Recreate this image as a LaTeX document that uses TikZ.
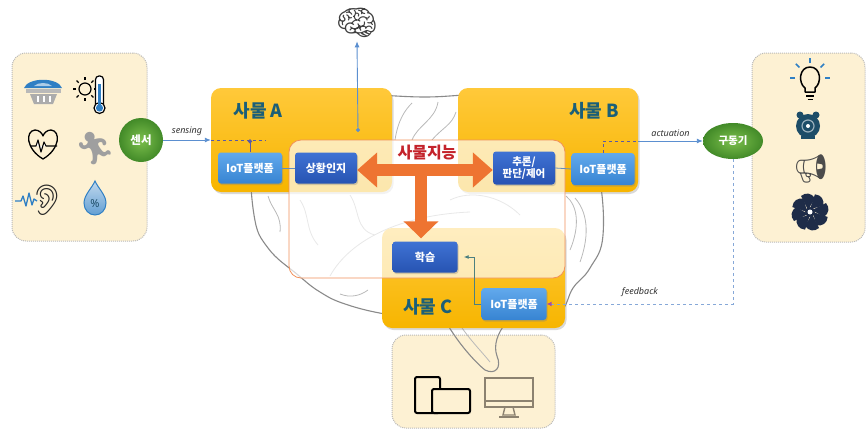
\documentclass[tikz,border=0pt]{standalone}
\usepackage{fontspec}
\setmainfont{Noto Sans CJK KR}
\newfontfamily\emo{Noto Emoji}
\newfontfamily\lat{Noto Sans}
\usetikzlibrary{positioning,shadows,arrows.meta,shapes.geometric}

\definecolor{thingyellow}{HTML}{F7B500}
\definecolor{thingtop}{HTML}{FFC93A}
\definecolor{titleteal}{HTML}{1B5F78}
\definecolor{iotblue}{HTML}{3784D2}
\definecolor{iottop}{HTML}{62A9EC}
\definecolor{funcblue}{HTML}{2753B2}
\definecolor{functop}{HTML}{3F72D4}
\definecolor{cream}{HTML}{FDF1D3}
\definecolor{hubgreen}{HTML}{428A28}
\definecolor{hublight}{HTML}{7CBF4C}
\definecolor{brainline}{HTML}{8A8A8A}
\definecolor{arrowor}{HTML}{EE7431}
\definecolor{brainred}{HTML}{C4232B}
\definecolor{sigblue}{HTML}{5B8FD0}
\definecolor{dashblue}{HTML}{86A8D8}
\definecolor{iconblue}{HTML}{2F7FC4}
\definecolor{bellnavy}{HTML}{1D4D68}
\definecolor{fannavy}{HTML}{1E2C48}
\definecolor{devgray}{HTML}{8C8270}

\begin{document}
\begin{tikzpicture}[
  x=1pt, y=-1pt,
  panel/.style={rounded corners=14pt, fill=cream, draw=gray!55, densely dotted, line width=1pt, inner sep=0pt},
  thing/.style={rounded corners=10pt, top color=thingtop, bottom color=thingyellow, inner sep=0pt,
    drop shadow={opacity=0.3, shadow xshift=1.5pt, shadow yshift=-2pt}},
  title/.style={text=titleteal, font=\bfseries\fontsize{18}{18}\selectfont},
  iot/.style={rounded corners=3pt, top color=iottop, bottom color=iotblue, text=white,
    font=\bfseries\fontsize{11}{12}\selectfont, minimum width=64pt, minimum height=31pt, inner sep=1pt,
    align=center, drop shadow={opacity=0.35, shadow xshift=1pt, shadow yshift=-1.5pt}},
  func/.style={iot, top color=functop, bottom color=funcblue},
  hub/.style={circle, shading=radial, inner color=hublight, outer color=hubgreen, text=white,
    font=\bfseries\fontsize{11.5}{12}\selectfont, minimum size=44pt, inner sep=0pt},
  brain/.style={draw=brainline, line width=1.1pt},
  gyrus/.style={draw=gray!55, line width=0.8pt},
  sig/.style={draw=sigblue, line width=0.9pt, -{Latex[length=6pt,width=5pt]}},
  dashline/.style={draw=dashblue, line width=1pt, dashed},
  biglink/.style={draw=arrowor, line width=12pt},
  lbl/.style={font=\lat\itshape\fontsize{9}{9}\selectfont, text=black!80},
  emoji/.style={font=\emo\fontsize{#1}{#1}\selectfont},
  font=\small
]
\useasboundingbox (0,0) rectangle (866,431);

% device panel sits under the brain stem
\node[panel, minimum width=163pt, minimum height=93pt] (devPanel) at (473.5,381.5) {};

% brain in the background
\draw[brain] plot[smooth cycle, tension=0.7] coordinates {(252,150) (268,118) (305,100) (360,95) (425,97)
  (485,95) (540,103) (580,128) (598,170) (603,235) (590,268) (573,288) (562,310) (540,322) (505,325)
  (470,322) (425,318) (385,314) (345,304) (320,292) (298,275) (268,248) (254,215)};
\draw[brain] (446,322) .. controls (458,343) and (475,362) .. (485,370)
  .. controls (495,375) and (502,368) .. (497,356) .. controls (493,345) and (498,333) .. (505,324);
\draw[gyrus] (460,325) .. controls (470,340) and (482,352) .. (490,362);
\draw[gyrus] (395,140) .. controls (398,120) and (405,110) .. (412,103);
\draw[gyrus] (412,140) .. controls (418,125) and (435,120) .. (438,102);
\draw[gyrus] (432,140) .. controls (442,128) and (452,125) .. (456,112);
\draw[gyrus] (330,276) .. controls (350,240) and (400,215) .. (470,212);
\draw[gyrus] (300,200) .. controls (310,215) and (305,230) .. (318,245);
\draw[gyrus] (350,195) .. controls (360,210) and (355,230) .. (375,235);
\draw[gyrus] (450,200) .. controls (470,190) and (500,195) .. (520,215);
\draw[gyrus] (268,196) .. controls (272,210) and (282,215) .. (280,232);
\draw[gyrus] (575,198) .. controls (590,215) and (588,240) .. (580,262);
\draw[gyrus] (566,196) .. controls (578,206) and (580,226) .. (570,250);
\draw[gyrus] (340,294) .. controls (350,298) and (360,296) .. (368,290);

% sensor and actuator panels
\node[panel, minimum width=135pt, minimum height=188pt] (sensorPanel) at (79.5,147) {};
\node[panel, minimum width=113pt, minimum height=189pt] (actPanel) at (808.5,147.5) {};

% things
\node[thing, minimum width=181pt, minimum height=104pt] (thingA) at (301.5,140) {};
\node[thing, minimum width=180pt, minimum height=104pt] (thingB) at (548,140) {};
\node[thing, minimum width=183pt, minimum height=100pt] (thingC) at (473.5,278) {};

% intelligence area laid over the things
\node[rounded corners=12pt, fill=white, fill opacity=0.68, draw=arrowor!80, line width=0.8pt,
  minimum width=276pt, minimum height=138pt] (brainbox) at (427,209) {};

\node[title] at (258,111) {사물 A};
\node[title] at (594,111) {사물 B};
\node[title] at (428,307) {사물 C};
\node[text=brainred, font=\bfseries\fontsize{16}{16}\selectfont] (smart) at (427,153) {사물지능};

% platforms and functions
\node[iot] (iotA) at (250,168) {IoT플랫폼};
\node[func, minimum width=62pt] (sense) at (326,168) {상황인지};
\node[func, minimum width=62pt, minimum height=33pt, font=\bfseries\fontsize{10.5}{12}\selectfont] (judge) at (524,168) {추론/\\판단/제어};
\node[iot, minimum width=63pt, minimum height=32pt] (iotB) at (603,169) {IoT플랫폼};
\node[func, minimum width=65pt] (learn) at (425,257) {학습};
\node[iot, minimum width=65pt, minimum height=32pt] (iotC) at (514,304) {IoT플랫폼};

% sensor / actuator hubs
\node[hub] (sensor) at (141,140) {센서};
\node[hub, ellipse, minimum width=60pt, minimum height=36pt, font=\bfseries\fontsize{10.5}{11}\selectfont] (actuator) at (733,141) {구동기};

% orange links between the functions
\coordinate (fork) at (421,170);
\draw[biglink, {Triangle[width=34pt,length=20pt]}-{Triangle[width=34pt,length=20pt]}]
  (sense.east |- fork) -- (judge.west |- fork);
\draw[biglink, -{Triangle[width=34pt,length=17pt]}, shorten >=3pt] (fork) -- (fork |- learn.north);

% sensing side
\draw[sig] (sensor.east) -- node[lbl, above=1pt] {sensing} (sensor.east -| thingA.west);
\draw[dashline, draw=gray!70!blue] (sensor.east -| thingA.west) -- ++(55,0);
\draw[draw=gray!70!blue, line width=1pt, {Circle[length=4pt]}-] (iotA.north) ++(0,-13) -- (iotA.north);
\draw[draw=sigblue!80!gray, line width=0.8pt] (iotA.east) -- (sense.west);
\draw[draw=sigblue!80!gray, line width=0.8pt] (judge.east) -- (iotB.west);

% actuation side
\coordinate (actB) at (thingB.east |- actuator);
\draw[dashline, draw=gray!70!blue] (iotB.north) |- (actB);
\draw[sig] (actB) -- node[lbl, above=1pt] {actuation} (actuator.west);

% feedback into thing C
\draw[dashline, -{Latex[length=5pt,width=5pt,color=violet!70]}] (actuator.south) |- node[lbl, above=4pt, pos=0.75] {feedback} (iotC.east);
\draw[draw=gray!60!teal, line width=0.9pt, -{Latex[length=5pt,width=4pt]}] (iotC.west) -- ++(-7,0) |- ([xshift=6pt]learn.east);

% knowledge goes up
\node[emoji=34, text=black!75] (brainIcon) at (357,23) {🧠};
\coordinate (upA) at (358,132);
\draw[draw=sigblue, line width=0.9pt, {Circle[length=4pt]}-{Latex[length=6pt,width=5pt]}] (upA) -- (brainIcon.south);

% sensor icons
\fill[iconblue] (24,88) .. controls (28,77) and (58,77) .. (62,88) -- cycle;
\fill[white!60!iconblue] (34,86) .. controls (38,82) and (48,82) .. (52,86) -- cycle;
\fill[gray!55] (26,89) rectangle (61,93);
\fill[gray!65] (30,94) -- (57,94) -- (53,104) -- (34,104) -- cycle;
\foreach \sx in {37,43,49} \fill[white] (\sx,96) rectangle ++(2.4,6);

\draw[line width=1.2pt] (85,89) circle (6);
\foreach \a in {0,45,...,315} \draw[line width=1.2pt, shift={(85,89)}] (\a:9) -- (\a:12);
\draw[line width=1.2pt, fill=white, rounded corners=3.5pt] (95.5,104) -- (95.5,76) -- (103.5,76) -- (103.5,104);
\draw[line width=1.2pt, fill=white] (99.5,108) circle (5.5);
\fill[iconblue] (98,84) rectangle (101,106);
\fill[iconblue] (99.5,108) circle (3.6);

\draw[line width=1.3pt, line join=round] (43,159) .. controls (26,149) and (25,131) .. (35,130)
  .. controls (39,130) and (42,133) .. (43,136) .. controls (44,133) and (47,130) .. (51,130)
  .. controls (61,131) and (60,149) .. (43,159) -- cycle;
\draw[line width=1.1pt, fill=white, line join=round] (30,146) -- (36,146) -- (38,140) -- (41,152) -- (44,142) -- (46,146) -- (57,146);

\node[emoji=32, text=gray!75] (runner) at (95,149) {🏃};

\draw[iconblue, line width=1.3pt, line join=round] (15,201) -- (21,201) -- (23,196) -- (26,206) -- (29,193) -- (32,205) -- (34,199) -- (37,201);
\node[emoji=30, text=black!85] (ear) at (47,200) {👂};

\draw[draw=iconblue, line width=1pt, shade, top color=white!70!iconblue, bottom color=white!25!iconblue]
  (95,181) .. controls (92,188) and (84,195) .. (84,203) .. controls (84,210) and (89,215) .. (95,215)
  .. controls (101,215) and (106,210) .. (106,203) .. controls (106,195) and (98,188) .. (95,181) -- cycle;
\node[text=bellnavy, font=\bfseries\fontsize{11}{11}\selectfont] at (95,204) {\lat\%};

% actuator icons
\draw[line width=1.5pt, line join=round] (805,92) -- (805,88) .. controls (798,83) and (799,67) .. (810,67)
  .. controls (821,67) and (822,83) .. (815,88) -- (815,92) -- cycle;
\draw[line width=1.5pt] (806,96) -- (814,96);
\draw[line width=1.5pt] (807.5,99.5) -- (812.5,99.5);
\foreach \a in {0,-45,-90,-135,180} \draw[iconblue, line width=1.6pt, shift={(810,78)}] (\a:15) -- (\a:20);

\fill[bellnavy] (800,115) circle (3.5);
\fill[bellnavy] (816,115) circle (3.5);
\fill[bellnavy] (808,126) circle (12);
\fill[bellnavy] (801,136) rectangle (815,139);
\draw[white!55!bellnavy, line width=1.2pt] (808,126) circle (6);
\fill[white] (808,126) circle (2);

\node[emoji=28, text=gray!60!black] (horn) at (811,169) {📢};

\foreach \a in {0,45,...,315}
  \fill[fannavy, rotate around={\a:(810,212)}] (812,210) -- (826,203) .. controls (830,208) and (829,213) .. (824,217) -- cycle;
\fill[fannavy] (810,212) circle (5);
\fill[white] (810,212) circle (2.5);

% devices
\draw[line width=2pt, rounded corners=2pt, fill=cream] (415,377) rectangle (440,413);
\draw[line width=2pt, rounded corners=2pt, fill=cream] (432,389) rectangle (470,413);
\draw[devgray, line width=1.6pt] (485,378) rectangle (533,407);
\draw[devgray, line width=1.2pt] (485,401) -- (533,401);
\draw[devgray, line width=1.4pt] (505,407) -- (503,415) -- (515,415) -- (513,407);
\draw[devgray, line width=1.6pt] (499,417) -- (519,417);
\end{tikzpicture}
\end{document}
